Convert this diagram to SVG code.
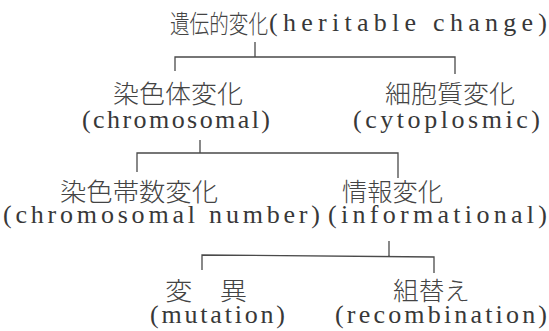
<svg xmlns="http://www.w3.org/2000/svg" width="549" height="331" viewBox="0 0 549 331">
<style>
.bg{fill:#ffffff}
.cjk{font-family:"Noto Sans CJK JP","Noto Sans CJK SC",sans-serif;font-size:25px;font-weight:300;fill:#444444}
.lat{font-family:"Liberation Serif","DejaVu Serif",serif;font-size:26px;fill:#383838}
.conn path{fill:none;stroke:#4a4a4a;stroke-width:1.3}
</style>
<rect class="bg" x="0" y="0" width="549" height="331"/>
<g id="connectors" class="conn">
<path d="M255,42 V57 M175,71 V57 H455 V74"/>
<path d="M200,140 V153 M137,172 V153 H398 V178"/>
<path d="M389,241 V256 M202,270 V255 L434,257 V273"/>
</g>
<g id="heritable">
<text class="cjk" x="170" y="33" textLength="98" lengthAdjust="spacingAndGlyphs">遺伝的変化</text>
<text class="lat" x="269" y="31" textLength="278" lengthAdjust="spacing">(heritable change)</text>
</g>
<g id="chromosomal">
<text class="cjk" x="113" y="103" textLength="130" lengthAdjust="spacingAndGlyphs">染色体変化</text>
<text class="lat" x="82" y="128" textLength="188" lengthAdjust="spacing">(chromosomal)</text>
</g>
<g id="cytoplasmic">
<text class="cjk" x="385" y="103" textLength="130" lengthAdjust="spacingAndGlyphs">細胞質変化</text>
<text class="lat" x="353" y="128" textLength="187" lengthAdjust="spacing">(cytoplosmic)</text>
</g>
<g id="chromosomal-number">
<text class="cjk" x="60" y="201" textLength="158" lengthAdjust="spacingAndGlyphs">染色帯数変化</text>
<text class="lat" x="3" y="223" textLength="317" lengthAdjust="spacing">(chromosomal number)</text>
</g>
<g id="informational">
<text class="cjk" x="342" y="201" textLength="101" lengthAdjust="spacingAndGlyphs">情報変化</text>
<text class="lat" x="328" y="223" textLength="219" lengthAdjust="spacing">(informational)</text>
</g>
<g id="mutation">
<text class="cjk" x="165" y="300" textLength="82" lengthAdjust="spacingAndGlyphs">変　異</text>
<text class="lat" x="150" y="323" textLength="135" lengthAdjust="spacing">(mutation)</text>
</g>
<g id="recombination">
<text class="cjk" x="393" y="300" textLength="77" lengthAdjust="spacingAndGlyphs">組替え</text>
<text class="lat" x="335" y="323" textLength="212" lengthAdjust="spacing">(recombination)</text>
</g>
</svg>
